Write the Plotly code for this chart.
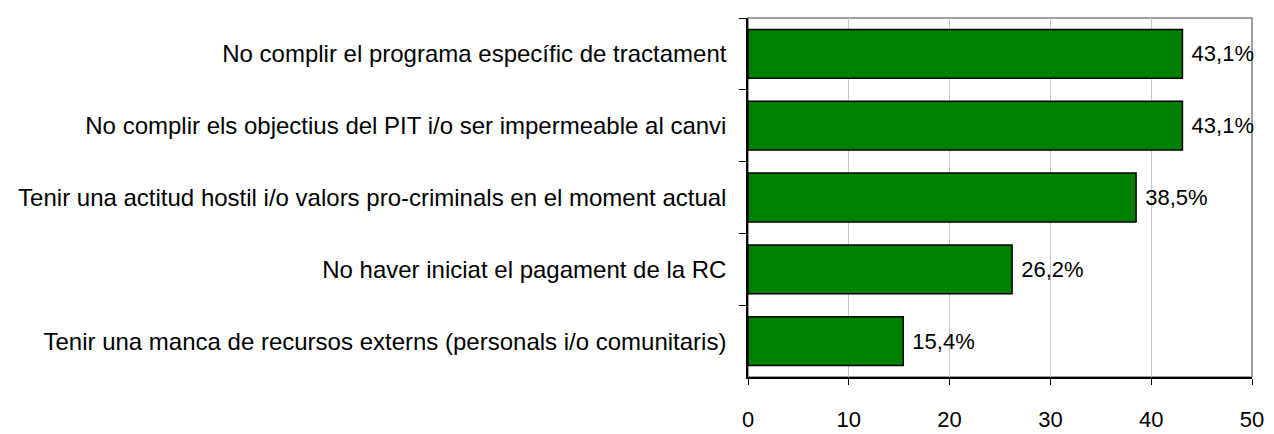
import plotly.graph_objects as go

# categories listed top to bottom as they appear in the chart
categories = [
    "No complir el programa específic de tractament",
    "No complir els objectius del PIT i/o ser impermeable al canvi",
    "Tenir una actitud hostil i/o valors pro-criminals en el moment actual",
    "No haver iniciat el pagament de la RC",
    "Tenir una manca de recursos externs (personals i/o comunitaris)",
]
percentages = [43.1, 43.1, 38.5, 26.2, 15.4]
x_ticks = [0, 10, 20, 30, 40, 50]

font_family = "Liberation Sans, Arial, sans-serif"

fig = go.Figure()
fig.add_trace(go.Bar(
    x=percentages,
    y=categories,
    orientation="h",
    marker=dict(color="#008000", line=dict(color="black", width=1.5)),
    texttemplate="\u00a0%{x:.1f}%",
    textposition="outside",
    textfont=dict(size=22, color="black", family=font_family),
    cliponaxis=False,
))

fig.update_layout(
    width=1274,
    height=434,
    margin=dict(l=738, r=30, t=10, b=44),
    plot_bgcolor="white",
    paper_bgcolor="white",
    separators=",.",
    bargap=0.32,
    showlegend=False,
    font=dict(family=font_family, size=22, color="black"),
    shapes=[dict(
        type="rect", xref="paper", yref="paper", x0=0, x1=1, y0=0, y1=1,
        line=dict(color="#808080", width=1.5), layer="below",
    )],
)

fig.update_xaxes(
    range=[0, 50],
    tickvals=x_ticks,
    tickfont=dict(size=22),
    showgrid=True,
    gridcolor="#c8c8c8",
    gridwidth=1,
    showline=True,
    linecolor="black",
    linewidth=1.5,
    ticks="outside",
    ticklen=6,
    tickcolor="black",
    ticklabelstandoff=16,
    zeroline=False,
)

fig.update_yaxes(
    autorange="reversed",
    tickfont=dict(size=24),
    showline=True,
    linecolor="black",
    linewidth=1.5,
    ticks="outside",
    tickson="boundaries",
    ticklen=7,
    tickcolor="black",
    ticklabelstandoff=15,
    showgrid=False,
)

fig.write_html("out.html")
